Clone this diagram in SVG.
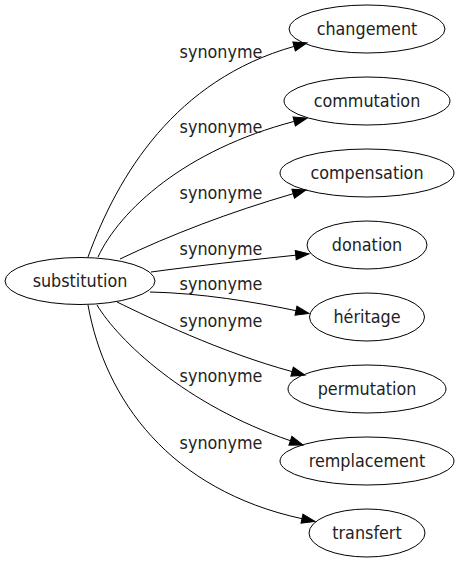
<svg xmlns="http://www.w3.org/2000/svg" width="460" height="563" viewBox="0 0 460 563">
<style>
.node ellipse{fill:none;stroke:#000;stroke-width:1}
.node text,.lbl{font-family:"DejaVu Sans Condensed","DejaVu Sans",sans-serif;font-stretch:condensed;font-size:17.8px;fill:#222;text-anchor:middle}
.edge path{fill:none;stroke:#000;stroke-width:1}
</style>
<defs>
<marker id="arr" markerUnits="userSpaceOnUse" markerWidth="16" markerHeight="12" refX="0" refY="0" viewBox="0 -6 16 12" orient="auto" overflow="visible">
<path d="M0,-4.67 L13.3,0 L0,4.67 z" fill="#000" stroke="#000" stroke-width="1"/>
</marker>
</defs>
<rect width="460" height="563" fill="#fff"/>
<g id="edges">
<g class="edge"><path marker-end="url(#arr)" d="M88,257 C118,175 175,80 294.1,46.4"/></g>
<g class="edge"><path marker-end="url(#arr)" d="M98,257 C120,210 185,150 294.2,121.4"/></g>
<g class="edge"><path marker-end="url(#arr)" d="M120,259 C170,235 230,212 293.2,193.7"/></g>
<g class="edge"><path marker-end="url(#arr)" d="M151,272 C195,266 250,260 295.75,255.2"/></g>
<g class="edge"><path marker-end="url(#arr)" d="M150,292 C200,293 255,302 296,310.7"/></g>
<g class="edge"><path marker-end="url(#arr)" d="M117,302 C150,318 220,352 292.1,371.6"/></g>
<g class="edge"><path marker-end="url(#arr)" d="M97,305 C118,340 185,405 290.4,440.7"/></g>
<g class="edge"><path marker-end="url(#arr)" d="M88,305 C105,400 170,490 302,518.7"/></g>
<text class="lbl" x="221" y="58">synonyme</text>
<text class="lbl" x="221" y="133">synonyme</text>
<text class="lbl" x="221" y="199">synonyme</text>
<text class="lbl" x="221" y="255">synonyme</text>
<text class="lbl" x="221" y="290">synonyme</text>
<text class="lbl" x="221" y="327">synonyme</text>
<text class="lbl" x="221" y="382">synonyme</text>
<text class="lbl" x="221" y="449">synonyme</text>
</g>
<g id="substitution" class="node"><ellipse cx="80" cy="281" rx="75" ry="23.5"/><text x="80" y="286.5">substitution</text></g>
<g id="changement" class="node"><ellipse cx="367" cy="29" rx="78" ry="24"/><text x="367" y="34.5">changement</text></g>
<g id="commutation" class="node"><ellipse cx="367" cy="101" rx="83" ry="24"/><text x="367" y="106.5">commutation</text></g>
<g id="compensation" class="node"><ellipse cx="367" cy="173" rx="87" ry="24"/><text x="367" y="178.5">compensation</text></g>
<g id="donation" class="node"><ellipse cx="367" cy="245" rx="60" ry="24"/><text x="367" y="250.5">donation</text></g>
<g id="heritage" class="node"><ellipse cx="367" cy="317" rx="57.5" ry="24"/><text x="367" y="322.5">héritage</text></g>
<g id="permutation" class="node"><ellipse cx="367" cy="389" rx="79" ry="24"/><text x="367" y="394.5">permutation</text></g>
<g id="remplacement" class="node"><ellipse cx="367" cy="461" rx="87" ry="24"/><text x="367" y="466.5">remplacement</text></g>
<g id="transfert" class="node"><ellipse cx="367" cy="533" rx="58" ry="24"/><text x="367" y="538.5">transfert</text></g>
</svg>
